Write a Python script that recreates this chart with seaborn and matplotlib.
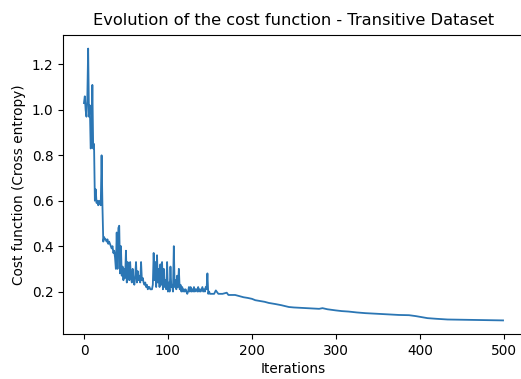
import matplotlib
matplotlib.use("Agg")
import matplotlib.pyplot as plt
import seaborn as sns
import pandas as pd

# Iteration indices and cost values
iterations = list(range(0, 151)) + [155, 157, 160, 165, 170, 172, 180, 185, 190, 195,
    200, 204, 210, 215, 220, 228, 235, 244, 250, 260, 270, 280, 284, 290, 300,
    307, 315, 325, 335, 349, 360, 375, 387, 395, 403, 409, 420, 433, 450, 470, 485, 499]

cost = [
    1.03, 1.06, 1.00, 0.97, 1.05, 1.27, 0.97, 1.02, 0.83, 0.84,
    1.11, 0.83, 0.85, 0.60, 0.65, 0.59, 0.60, 0.58, 0.60, 0.59,
    0.58, 0.80, 0.58, 0.42, 0.44, 0.43, 0.43, 0.42, 0.43, 0.41,
    0.42, 0.41, 0.40, 0.39, 0.40, 0.37, 0.38, 0.35, 0.30, 0.46,
    0.30, 0.48, 0.49, 0.28, 0.40, 0.27, 0.31, 0.25, 0.30, 0.26,
    0.38, 0.24, 0.33, 0.27, 0.25, 0.33, 0.26, 0.24, 0.30, 0.25,
    0.23, 0.27, 0.33, 0.24, 0.29, 0.25, 0.27, 0.24, 0.33, 0.25,
    0.26, 0.24, 0.23, 0.24, 0.22, 0.23, 0.21, 0.22, 0.22, 0.21,
    0.21, 0.21, 0.23, 0.37, 0.25, 0.33, 0.22, 0.36, 0.24, 0.30,
    0.22, 0.32, 0.23, 0.33, 0.21, 0.30, 0.22, 0.25, 0.21, 0.33,
    0.20, 0.24, 0.20, 0.31, 0.22, 0.23, 0.20, 0.40, 0.22, 0.25,
    0.21, 0.27, 0.22, 0.30, 0.21, 0.23, 0.20, 0.22, 0.20, 0.21,
    0.20, 0.21, 0.20, 0.19, 0.20, 0.22, 0.20, 0.22, 0.20, 0.21,
    0.20, 0.22, 0.20, 0.21, 0.21, 0.20, 0.22, 0.20, 0.21, 0.20,
    0.21, 0.22, 0.20, 0.21, 0.20, 0.22, 0.21, 0.28, 0.19, 0.20,
    0.19,
    0.19, 0.205, 0.19, 0.19, 0.195, 0.185, 0.185, 0.18, 0.175, 0.172,
    0.168, 0.162, 0.158, 0.155, 0.15, 0.145, 0.14, 0.132, 0.13, 0.128,
    0.126, 0.124, 0.127, 0.122, 0.117, 0.114, 0.112, 0.108, 0.105, 0.102,
    0.10, 0.097, 0.096, 0.092, 0.087, 0.083, 0.08, 0.077, 0.076, 0.075,
    0.074, 0.073,
]

title = "Evolution of the cost function - Transitive Dataset"
xlabel = "Iterations"
ylabel = "Cost function (Cross entropy)"

df = pd.DataFrame({"iteration": iterations, "cost": cost})

fig = plt.figure(figsize=(5.21, 3.79), dpi=100)
W, H = 521, 379
left, right, top, bottom = 63, 524, 35, 334
ax = fig.add_axes([left / W, (H - bottom) / H, (right - left) / W, (bottom - top) / H])

sns.lineplot(data=df, x="iteration", y="cost", ax=ax, color="#2b76b4", linewidth=1.3)

ax.set_title(title, fontsize=11.7, pad=7)
ax.set_xlabel(xlabel, fontsize=9.8, labelpad=3)
ax.set_ylabel(ylabel, fontsize=9.8, labelpad=4)
ax.tick_params(labelsize=9.8)
ax.set_xticks([0, 100, 200, 300, 400, 500])
ax.set_yticks([0.2, 0.4, 0.6, 0.8, 1.0, 1.2])
ax.margins(x=0.05, y=0.05)

fig.savefig("out.png", dpi=100)
